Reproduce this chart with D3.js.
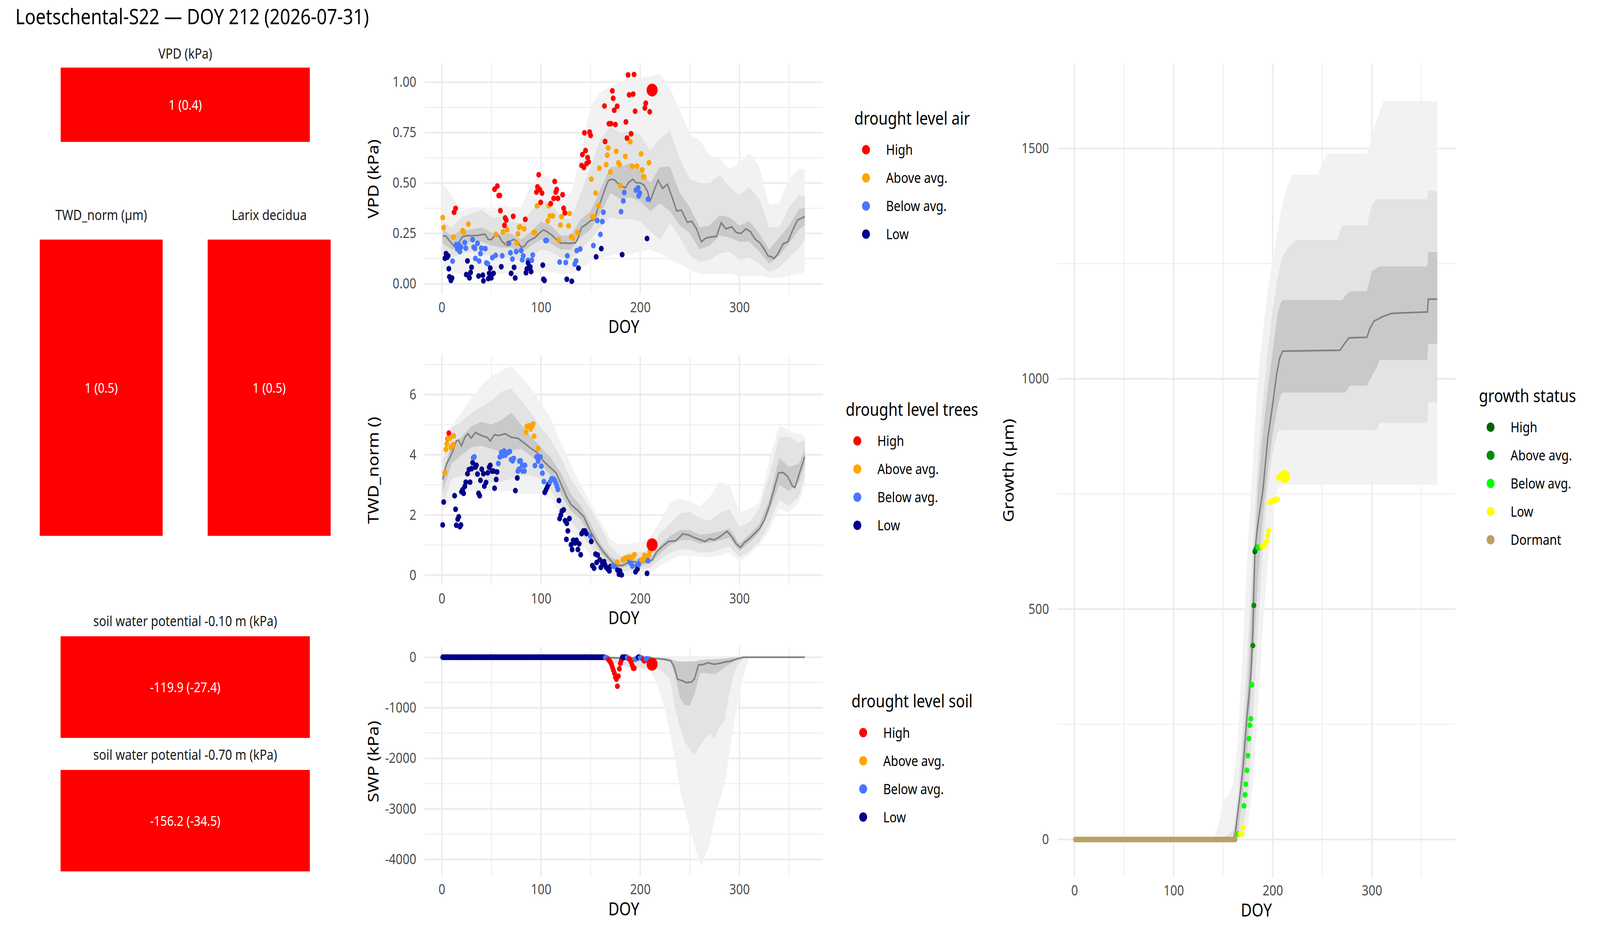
<!DOCTYPE html>
<html>
<head>
<meta charset="utf-8">
<script src="https://cdn.jsdelivr.net/npm/d3@7"></script>
<style>
  html, body { margin: 0; padding: 0; background: #fff; overflow: hidden; }
  svg { display: block; width: 100vw; height: 100vh; }
  text { font-family: "Noto Sans", "Open Sans", sans-serif; }
</style>
</head>
<body>
<svg id="chart" viewBox="0 0 4800 2400" preserveAspectRatio="none"></svg>
<script>
// ---- data ----
const titleText = "Loetschental-S22 \u2014 DOY 212 (2026-07-31)";
const todayDoy = 212;

const levelNames = ['High', 'Above avg.', 'Below avg.', 'Low'];
const levelCodes = ['H', 'A', 'B', 'L'];
const levelColors = ['#FF0000', '#FFA500', '#4876FF', '#00008B'];

const growthNames = ['High', 'Above avg.', 'Below avg.', 'Low', 'Dormant'];
const growthCodes = ['H', 'A', 'B', 'L', 'D'];
const growthColors = ['#006400', '#008B00', '#00FF00', '#FFFF00', '#BC9F62'];

// summary tiles: label, value text, level
const tileLabels = ['VPD (kPa)', 'TWD_norm (\u00b5m)', 'Larix decidua', 'soil water potential -0.10 m (kPa)', 'soil water potential -0.70 m (kPa)'];
const tileValues = ['1 (0.4)', '1 (0.5)', '1 (0.5)', '-119.9 (-27.4)', '-156.2 (-34.5)'];
const tileLevels = ['H', 'H', 'H', 'H', 'H'];

const doyTicks = [0, 100, 200, 300];
const doyMinor = [50, 150, 250, 350];

// VPD observations [doy, kPa]
const vpdHigh = [[12.4,.355],[13.9,.374],[53.2,.469],[56,.485],[57.4,.438],[58.5,.438],[59.1,.363],[63.2,.29],[63.9,.327],[65,.316],[72,.335],[84.2,.32],[95.4,.455],[96.5,.481],[97.7,.541],[98.8,.468],[99.7,.404],[101,.45],[109.8,.398],[112.8,.424],[113.8,.508],[114.9,.455],[115.8,.468],[117,.424],[121.8,.442],[122.8,.375],[124.1,.352],[141,.587],[141.7,.641],[143.2,.577],[143.8,.749],[144.9,.661],[146,.597],[147,.626],[148,.605],[149,.753],[150,.736],[164,.882],[164.6,.706],[168.5,.794],[170.6,.794],[171.9,.957],[172.8,.92],[173.8,.861],[175,.79],[176.8,.881],[185.6,.803],[186.7,.723],[187.8,1.036],[188.9,.937],[190.8,.744],[192.9,.941],[193.8,1.038],[194.9,.856],[204.7,.872],[205.6,.896],[209.6,.853]];
const vpdAbove = [[0.9,.329],[1.9,.279],[11.8,.232],[21,.264],[22,.257],[26.8,.296],[54.7,.245],[61.7,.258],[66,.268],[66.4,.199],[75.7,.203],[76.8,.248],[78,.28],[78.9,.283],[83,.273],[92.8,.255],[93.9,.255],[96,.387],[106.8,.312],[107.8,.387],[109,.337],[112,.337],[117.8,.218],[119.6,.292],[120.7,.333],[127.8,.288],[128.9,.349],[130.3,.234],[132,.228],[136.8,.255],[150.7,.519],[151.8,.332],[153.5,.332],[155,.45],[157.8,.387],[158.8,.574],[165.7,.591],[166.8,.638],[167.8,.674],[170,.555],[175.8,.657],[178,.6],[179.2,.591],[180,.487],[185,.632],[190,.705],[192,.583],[196.8,.584],[200.9,.645],[202,.565],[203.2,.531],[203.9,.531],[208.8,.601]];
const vpdBelow = [[10.9,.113],[14.6,.195],[15.6,.173],[17.1,.195],[18.2,.16],[19.3,.182],[23.2,.205],[24.2,.177],[31.1,.219],[32.2,.182],[33.4,.176],[33.9,.126],[36,.201],[37.7,.113],[39,.15],[39.9,.177],[43.9,.175],[45,.104],[46.3,.1],[51,.13],[54.2,.141],[60.9,.139],[67.7,.201],[69.2,.154],[71.2,.123],[75,.16],[80,.165],[81.1,.119],[82.1,.139],[87,.117],[90.7,.117],[91.7,.143],[104.6,.215],[105.7,.215],[118.8,.108],[125,.106],[126.5,.139],[134,.098],[135.3,.114],[136.1,.165],[139.5,.173],[152.8,.19],[156.7,.314],[159.9,.245],[161.8,.309],[162.9,.355],[180.7,.358],[182.9,.411],[183.9,.453],[195.7,.465],[197.9,.476],[198.5,.437],[199.6,.45],[207.9,.42]];
const vpdLow = [[3.2,.127],[4.3,.15],[5.4,.132],[6.4,.139],[7.1,.075],[7.7,.035],[9.2,.017],[10.3,.029],[24.7,.046],[25.9,.114],[27.9,.03],[29,.056],[30,.082],[37.1,.039],[41.4,.043],[42,.015],[46.9,.026],[47.8,.052],[48.9,.078],[49.9,.03],[52.1,.052],[60,.085],[69.9,.052],[72.9,.082],[74,.029],[84.9,.055],[85.7,.074],[87,.104],[87.9,.082],[89.2,.084],[90,.061],[101.8,.093],[102.5,.023],[103.5,.017],[126,.023],[131,.013],[137.8,.078],[155.6,.134],[160.8,.175],[181.8,.145],[206.9,.225]];
const vpdToday = [212, .961, 'H'];

// VPD climatology: median and bands [doy, outerLo, midLo, innerLo, innerHi, midHi, outerHi]
const vpdMedian = [[1,.236],[3.9,.238],[8.1,.212],[12.4,.186],[14.6,.177],[17.8,.212],[21,.234],[25.3,.24],[29.6,.238],[34.9,.24],[38.2,.242],[43.5,.247],[46.7,.221],[49.9,.219],[53.2,.238],[57.4,.238],[60.7,.212],[65,.19],[69.2,.212],[72.5,.221],[76.7,.208],[80,.182],[83.2,.186],[86.4,.208],[89.6,.219],[93.9,.229],[98.2,.251],[102.5,.268],[105.7,.26],[111,.242],[115.3,.221],[119.6,.202],[123.9,.203],[128.2,.201],[131.4,.203],[134.6,.203],[136.8,.221],[141,.281],[145.3,.294],[149.6,.312],[154,.32],[157.1,.372],[160.3,.411],[164.6,.472],[167.8,.511],[171.1,.519],[174.3,.515],[177.5,.498],[181.8,.485],[185,.476],[188.2,.502],[192.5,.519],[195.7,.502],[200.2,.5],[203.8,.49],[207.3,.459],[210.1,.412],[214.4,.468],[218,.514],[222.6,.473],[227.4,.494],[232.1,.431],[236.8,.361],[241.5,.366],[247.4,.306],[252.1,.31],[256.8,.273],[261.6,.209],[266.3,.227],[271,.232],[276.9,.236],[281.6,.303],[286.3,.273],[292.2,.283],[296.9,.255],[301.7,.25],[306.4,.273],[311.1,.259],[315.8,.222],[320.5,.204],[325.2,.171],[328.8,.139],[332.3,.134],[334.7,.125],[338.2,.144],[344.1,.199],[348.8,.209],[353.5,.264],[358.3,.315],[361.8,.324],[365.8,.334]];
const vpdBands = [
  [1,.08,.15,.20,.27,.31,.50],[10,.05,.13,.17,.24,.28,.44],[20,.05,.15,.19,.265,.33,.36],[30,.06,.16,.21,.27,.35,.38],
  [40,.05,.15,.21,.28,.37,.38],[50,.05,.14,.19,.255,.33,.36],[60,.05,.13,.18,.25,.33,.39],[70,.05,.13,.18,.25,.31,.38],
  [80,.04,.11,.15,.22,.30,.38],[90,.05,.13,.19,.26,.36,.49],[100,.06,.17,.22,.31,.42,.55],[110,.06,.16,.20,.29,.40,.52],
  [120,.05,.13,.17,.24,.33,.46],[130,.05,.12,.17,.24,.32,.44],[140,.07,.17,.23,.32,.45,.64],[150,.11,.22,.27,.36,.58,.88],
  [160,.13,.28,.35,.47,.72,.95],[170,.14,.33,.45,.58,.78,.98],[180,.15,.32,.42,.58,.75,1.0],[190,.15,.32,.43,.60,.76,1.02],
  [200,.16,.31,.41,.57,.74,1.02],[210,.17,.26,.36,.50,.66,1.03],[220,.15,.22,.40,.58,.72,1.04],[230,.12,.30,.36,.58,.76,.97],
  [240,.10,.23,.29,.45,.62,.86],[250,.07,.14,.25,.38,.52,.74],[260,.05,.11,.17,.28,.50,.71],[270,.05,.12,.19,.29,.50,.64],
  [280,.05,.15,.24,.34,.54,.62],[290,.05,.16,.23,.33,.48,.57],[300,.04,.12,.21,.29,.44,.60],[310,.04,.13,.21,.31,.48,.65],
  [320,.04,.10,.16,.25,.42,.58],[330,.03,.06,.10,.17,.28,.39],[340,.03,.08,.14,.23,.28,.40],[350,.04,.13,.20,.29,.38,.52],
  [360,.05,.18,.27,.37,.44,.57],[366,.06,.22,.29,.38,.43,.57]
];

// TWD_norm observations [doy, value]
const twdHigh = [[6,4.53],[7.1,4.72]];
const twdAbove = [[3,3.41],[4.1,4.18],[5.1,4.36],[6.4,4.53],[8.1,4.55],[9.2,4.24],[10.3,4.27],[11.4,4.34],[12,4.63],[84.9,4.75],[85.7,4.94],[87,4.95],[88.5,4.97],[89.6,4.86],[91.1,4.95],[92.2,5.03],[93,4.62],[97.1,4.21],[176.8,.43],[182.4,.51],[183.9,.54],[185.6,.57],[187.1,.55],[188.6,.6],[190.4,.57],[193,.63],[194.2,.68],[201.1,.51],[202.8,.51],[204.3,.66],[205.8,.57],[207.1,.63],[208.6,.66],[209.6,.79]];
const twdBelow = [[31.7,3.9],[32.8,3.93],[57,3.71],[58.5,3.93],[60,4.08],[61.3,3.97],[62.8,4.13],[63.9,3.99],[65.4,4.05],[67.1,4.08],[68.6,4.11],[69.9,3.84],[71.4,3.8],[72.5,3.88],[76.7,3.46],[77.8,3.52],[78.2,3.79],[79.5,3.8],[81,3.65],[81.5,3.46],[83.2,3.46],[83.8,3.65],[93.9,3.64],[95.6,3.93],[97.1,3.79],[97.7,3.93],[99.3,3.93],[100.3,3.62],[101.4,3.39],[102.9,3.11],[108.9,3.09],[110.6,3.2],[112.1,3.2],[113.6,3.16],[114.9,3.06],[116,2.96],[117,2.85],[149.6,1.3],[172.6,.3],[174.3,.3],[189.3,.45],[190.8,.39],[192.1,.3],[196.8,.32],[198.5,.35],[200,.48],[207.9,.48]];
const twdLow = [[0.9,1.67],[1.9,2.43],[12.9,2.64],[13.9,2.19],[14.6,1.66],[16.1,1.86],[17.1,1.94],[18.2,1.61],[19.3,1.67],[19.9,2.77],[21,2.84],[22,2.72],[23.2,2.95],[24.2,3.09],[25.9,3.37],[27.4,3.51],[28.5,3.09],[30,3.54],[31.1,3.74],[33.9,3.59],[34.9,3.65],[36,3.36],[37.1,2.72],[38.2,2.64],[39,3.15],[40.3,3.52],[42,3.37],[42.9,2.96],[44.6,3.08],[46.3,3.4],[47.8,3.59],[48.9,3.65],[50.6,3.46],[52.1,3.46],[53.2,2.89],[54.9,3.18],[55.7,3.43],[74.2,2.81],[76.1,3.23],[103.8,2.75],[105.1,2.84],[106.3,2.93],[107.8,3.03],[118.1,2.48],[118.8,1.88],[120,2.0],[121.1,2.13],[122.8,2.17],[124.3,1.81],[125.6,1.19],[126,1.72],[127.1,1.47],[128.6,1.88],[130.3,1.01],[131.4,.85],[132.5,1.16],[134.2,1.07],[135.7,1.16],[137.2,.85],[138.5,1.04],[140,.68],[141,1.38],[142.8,1.47],[144.3,1.47],[145.8,1.38],[150.7,1.12],[151.8,.32],[153.5,.23],[155,.7],[156.1,.42],[157.1,.67],[159.3,.51],[160.3,.26],[162,.39],[163.6,.45],[164.6,.34],[165.7,.26],[167.4,.2],[168.9,.14],[170,.29],[177.1,.17],[178.6,.03],[179.6,.14],[181.3,.01],[195.3,.11],[197.2,.2],[206.9,.06]];
const twdToday = [212, 1.01, 'H'];

const twdMedian = [[1,3.18],[2.8,3.46],[4.9,3.71],[8.1,3.9],[11.4,4.15],[14.6,4.46],[16.7,4.49],[19.9,4.3],[23.2,4.58],[26.4,4.7],[29.6,4.55],[33.9,4.74],[38.2,4.67],[42.4,4.61],[45.7,4.58],[48.9,4.46],[53.2,4.67],[57.4,4.64],[63.9,4.7],[70.3,4.58],[76.7,4.55],[83.2,4.39],[89.6,4.22],[96,4.08],[102.5,3.79],[108.9,3.59],[115.3,3.4],[121.8,2.9],[126,2.59],[130.3,2.34],[136.8,2.16],[143.2,1.94],[149.6,1.47],[156.1,1.1],[162.5,.79],[168.9,.54],[173.2,.39],[177.5,.32],[181.8,.32],[186.1,.39],[192.5,.45],[198.9,.42],[205.4,.45],[209.6,.48],[212,.5],[216.7,.78],[221.5,.93],[228.5,1.12],[235.6,1.14],[240.3,1.28],[242.7,1.37],[248.6,1.34],[254.5,1.25],[260.4,1.18],[265.1,1.12],[269.8,1.21],[274.5,1.17],[280.4,1.28],[287.5,1.46],[292.2,1.28],[296.9,1.03],[301.2,.92],[305.2,1.09],[309.9,1.21],[315.8,1.4],[320.5,1.56],[325.2,1.84],[329.9,2.27],[334.7,2.83],[339.4,3.4],[344.1,3.41],[348.8,3.27],[353.5,2.96],[355.9,2.91],[360.6,3.4],[365.8,3.93]];
const twdBands = [
  [1,2.1,2.4,2.8,3.35,3.8,4.3],[10,2.5,3.2,3.7,4.35,4.9,5.0],[20,2.7,3.3,4.0,4.6,5.1,5.4],[30,2.8,3.3,4.25,4.95,5.4,5.9],
  [40,2.8,3.2,4.3,5.1,5.6,6.3],[50,2.8,3.1,4.2,5.0,5.8,6.6],[60,2.8,3.1,4.1,5.15,6.1,6.8],[70,2.8,3.2,4.15,5.4,6.2,6.95],
  [80,2.7,3.3,4.2,5.0,5.8,6.6],[90,2.7,3.3,3.95,4.6,5.4,6.2],[100,2.7,3.2,3.7,4.25,4.9,5.7],[110,2.55,2.8,3.3,3.9,4.5,5.2],
  [120,2.0,2.3,2.7,3.4,3.9,4.4],[130,1.5,1.8,2.15,2.7,3.2,3.7],[140,1.0,1.4,1.85,2.3,2.7,3.0],[150,.7,.95,1.3,1.7,2.2,2.4],
  [160,.35,.5,.75,1.05,1.6,1.8],[170,.05,.2,.38,.62,.95,1.2],[180,0,.12,.24,.42,.62,1.0],[190,.02,.15,.32,.55,.75,1.05],
  [200,.05,.18,.32,.52,.78,1.1],[210,.1,.25,.38,.6,.8,1.25],[220,.3,.5,.72,.98,1.4,1.8],[230,.5,.75,1.0,1.3,1.7,2.4],
  [240,.65,.85,1.15,1.5,2.05,2.55],[250,.65,.85,1.18,1.5,2.1,2.45],[260,.62,.75,1.05,1.35,1.9,2.3],[270,.6,.75,1.08,1.38,1.8,2.6],
  [280,.65,.85,1.15,1.45,2.05,3.1],[290,.75,.95,1.25,1.55,2.2,3.0],[300,.45,.6,.8,1.05,1.6,2.1],[310,.7,.8,1.08,1.35,1.75,2.2],
  [320,1.0,1.1,1.42,1.7,2.2,2.4],[330,1.5,1.7,2.1,2.5,3.3,3.8],[340,2.2,2.5,3.0,3.9,4.6,5.0],[350,2.1,2.3,2.8,3.6,4.6,4.8],
  [360,2.4,2.6,3.1,3.7,4.4,4.7],[366,3.0,3.3,3.7,4.2,4.5,4.6]
];

// soil water potential, one value per day from DOY 1 to 212 (kPa)
const swpValues = [
  0,0,0,0,0,0,0,0,0,0,0,0,0,0,0,0,0,0,0,0,
  0,0,0,0,0,0,0,0,0,0,0,0,0,0,0,0,0,0,0,0,
  0,0,0,0,0,0,0,0,0,0,0,0,0,0,0,0,0,0,0,0,
  0,0,0,0,0,0,0,0,0,0,0,0,0,0,0,0,0,0,0,0,
  0,0,0,0,0,0,0,0,0,0,0,0,0,0,0,0,0,0,0,0,
  0,0,0,0,0,0,0,0,0,0,0,0,0,0,0,0,0,0,0,0,
  0,0,0,0,0,0,0,0,0,0,0,0,0,0,0,0,0,0,0,0,
  0,0,0,0,0,0,0,0,0,0,0,0,0,0,0,0,0,0,0,0,
  0,0,0,0,
  -5,-10,-20,
  -45,-70,-99,-138,-198,-257,-316,-395,-435,-573,-375,-229,-119,-60,
  0,0,0,0,0,
  -5,-20,
  -32,-60,-99,-158,-217,-217,
  -40,-30,-20,
  0,0,
  -10,-15,-20,
  -40,-71,-60,
  -32,-32,-35,-40,-45,
  -80,-138
];
const swpLevel =
  "LLLLLLLLLLLLLLLLLLLL" + "LLLLLLLLLLLLLLLLLLLL" + "LLLLLLLLLLLLLLLLLLLL" + "LLLLLLLLLLLLLLLLLLLL" +
  "LLLLLLLLLLLLLLLLLLLL" + "LLLLLLLLLLLLLLLLLLLL" + "LLLLLLLLLLLLLLLLLLLL" + "LLLLLLLLLLLLLLLLLLLL" +
  "LLLL" + "BBB" + "HHHHHHHHHHHHHH" + "LLLLL" + "BB" + "HHHHHH" + "BBB" + "LL" + "BBB" + "HHH" + "BBBBB" + "HH";

const swpMedian = [[1,0],[160,0],[165,-5],[180,-15],[200,-15],[212,-20],[224,-40],[230.9,-71],[234.4,-198],[237.5,-429],[242.7,-468],[246.9,-504],[252.1,-488],[254.9,-417],[258.7,-151],[262.7,-147],[268.6,-111],[274.5,-139],[280.4,-119],[286.3,-91],[291,-79],[296.9,-40],[304,0],[366,0]];
const swpBands = [
  [1,0,0,0,0,0,0],[150,0,0,0,0,0,0],[160,-30,-20,-5,0,0,0],[170,-120,-90,-20,0,0,0],[180,-180,-150,-30,0,0,0],
  [190,-230,-190,-30,0,0,0],[200,-250,-210,-30,0,0,0],[210,-270,-230,-35,0,0,0],[215,-450,-200,-40,-5,0,0],
  [220,-720,-260,-50,-10,-5,0],[225,-1050,-330,-60,-15,-10,0],[230,-1500,-430,-75,-30,-25,0],[235,-2000,-1000,-350,-75,-70,0],
  [240,-2600,-1390,-800,-85,-80,0],[245,-3000,-1670,-950,-85,-80,0],[250,-3400,-1830,-960,-85,-80,0],[255,-3750,-1930,-720,-80,-75,0],
  [260,-4050,-1750,-330,-60,-55,0],[262,-4130,-1700,-310,-55,-50,0],[265,-3950,-1610,-310,-50,-45,0],[270,-3700,-1520,-320,-45,-40,0],
  [275,-3200,-1610,-337,-40,-35,0],[280,-2850,-1380,-280,-35,-30,0],[285,-2500,-1250,-200,-25,-20,0],[290,-1900,-700,-140,-15,-10,0],
  [295,-1250,-300,-70,-5,0,0],[300,-700,-100,-25,0,0,0],[305,-300,-15,0,0,0,0],[310,0,0,0,0,0,0],[366,0,0,0,0,0,0]
];

// growth, one value per day from DOY 1 to 212 (um)
const growthValues = [
  0,0,0,0,0,0,0,0,0,0,0,0,0,0,0,0,0,0,0,0,
  0,0,0,0,0,0,0,0,0,0,0,0,0,0,0,0,0,0,0,0,
  0,0,0,0,0,0,0,0,0,0,0,0,0,0,0,0,0,0,0,0,
  0,0,0,0,0,0,0,0,0,0,0,0,0,0,0,0,0,0,0,0,
  0,0,0,0,0,0,0,0,0,0,0,0,0,0,0,0,0,0,0,0,
  0,0,0,0,0,0,0,0,0,0,0,0,0,0,0,0,0,0,0,0,
  0,0,0,0,0,0,0,0,0,0,0,0,0,0,0,0,0,0,0,0,
  0,0,0,0,0,0,0,0,0,0,0,0,0,0,0,0,0,0,0,0,
  0,0,
  12,12,12,12,12,12,12,26,
  73,97,120,150,182,219,248,262,336,
  421,508,
  625,
  630,634,
  634,634,634,635,
  636,636,638,640,645,648,660,670,732,732,734,735,736,737,737,738,738,
  785,788,790,791,790,789,788
];
const growthStatus =
  "DDDDDDDDDDDDDDDDDDDD" + "DDDDDDDDDDDDDDDDDDDD" + "DDDDDDDDDDDDDDDDDDDD" + "DDDDDDDDDDDDDDDDDDDD" +
  "DDDDDDDDDDDDDDDDDDDD" + "DDDDDDDDDDDDDDDDDDDD" + "DDDDDDDDDDDDDDDDDDDD" + "DDDDDDDDDDDDDDDDDDDD" +
  "DD" + "DDBBLLLL" + "BBBBBBBBB" + "AA" + "H" + "AA" + "BBBB" + "LLLLLLLLLLLLLLLLL" + "LLLLLLL";

const growthMedian = [[1,0],[158,0],[160,1],[162,10],[164,45],[166,80],[168,115],[170,155],[172,210],[174,265],[176,310],[178,360],[180,450],[181,540],[182,625],[184,665],[186,700],[190,755],[195,870],[200,945],[204,1010],[207,1045],[210,1060],[268,1062],[272,1075],[277,1089],[295,1090],[298,1109],[302,1125],[310,1134],[320,1142],[330,1143],[356,1145],[357,1173],[366,1173]];
const growthBands = [
  [1,0,0,0,0,0,0],[140,0,0,0,0,0,0],[145,0,0,0,0,0,30],[150,0,0,0,0,5,82],[155,0,0,0,0,10,95],
  [160,0,0,0,5,20,120],[165,0,0,15,60,100,220],[170,0,20,100,200,250,420],[175,30,90,210,340,420,640],
  [180,120,250,380,560,640,820],[185,280,450,560,760,820,1000],[190,460,630,700,880,950,1100],[195,600,760,800,980,1060,1190],
  [200,700,840,880,1060,1150,1260],[205,760,885,940,1140,1220,1320],[208,770,889,965,1165,1250,1360],[210,770,889,970,1171,1265,1380],
  [215,770,889,970,1171,1283,1420],[220,770,889,970,1171,1295,1443],[225,770,889,970,1171,1302,1443],[245,770,889,970,1171,1302,1443],
  [255,770,889,970,1171,1302,1489],[265,770,889,970,1171,1302,1489],[270,770,889,970,1171,1333,1489],[273,770,889,970,1180,1333,1489],
  [278,770,889,985,1190,1333,1489],[295,770,889,985,1190,1333,1489],[300,770,889,1006,1234,1377,1526],[305,770,889,1025,1240,1390,1560],
  [308,770,904,1041,1244,1390,1580],[312,770,904,1041,1244,1390,1603],[356,770,904,1041,1244,1390,1603],[357,770,949,1076,1275,1408,1603],
  [366,770,949,1076,1275,1408,1603]
];

// ---- drawing ----
const svg = d3.select('#chart');
const FONT = '"Noto Sans", "Open Sans", sans-serif';
const bandFills = ['#f2f2f2', '#e3e3e3', '#c9c9c9'];

svg.append('text')
  .attr('x', 46).attr('y', 62)
  .attr('font-size', 54).attr('fill', '#000')
  .text(titleText);

// summary tiles
const tileBoxes = [
  { x: 182, y: 173, w: 747.5, h: 190, labelY: 150 },
  { x: 119.3, y: 613, w: 368.7, h: 758, labelY: 563 },
  { x: 623, y: 613, w: 369, h: 758, labelY: 563 },
  { x: 181.7, y: 1628, w: 747.8, h: 260, labelY: 1602 },
  { x: 181.7, y: 1970, w: 747.8, h: 259.6, labelY: 1944 }
];
const tiles = svg.append('g').selectAll('g').data(tileBoxes).join('g');
tiles.append('rect')
  .attr('x', d => d.x).attr('y', d => d.y).attr('width', d => d.w).attr('height', d => d.h)
  .attr('fill', (d, i) => levelColors[levelCodes.indexOf(tileLevels[i])]);
tiles.append('text')
  .attr('x', d => d.x + d.w / 2).attr('y', d => d.labelY)
  .attr('text-anchor', 'middle').attr('font-size', 36).attr('fill', '#1a1a1a')
  .text((d, i) => tileLabels[i]);
tiles.append('text')
  .attr('x', d => d.x + d.w / 2).attr('y', d => d.y + d.h / 2)
  .attr('text-anchor', 'middle').attr('dominant-baseline', 'central')
  .attr('font-size', 35).attr('fill', '#fff')
  .text((d, i) => tileValues[i]);

function toPoints(lists, codes) {
  const pts = [];
  lists.forEach((list, i) => list.forEach(p => pts.push({ doy: p[0], v: p[1], c: codes[i] })));
  return pts.sort((a, b) => a.doy - b.doy);
}

function dailyPoints(values, codes) {
  return values.map((v, i) => ({ doy: i + 1, v: v, c: codes[i] }));
}

function drawPanel(o) {
  const x = d3.scaleLinear().domain([-17.25, 384.25]).range([o.left, o.right]);
  const y = d3.scaleLinear().domain(o.yDomain).range([o.bottom, o.top]);
  const g = svg.append('g');

  // grid
  const grid = g.append('g').attr('stroke', '#ebebeb');
  grid.selectAll('line.ymin').data(o.yMinor).join('line')
    .attr('x1', o.left).attr('x2', o.right).attr('y1', d => y(d)).attr('y2', d => y(d)).attr('stroke-width', 2.2);
  grid.selectAll('line.xmin').data(doyMinor).join('line')
    .attr('y1', o.top).attr('y2', o.bottom).attr('x1', d => x(d)).attr('x2', d => x(d)).attr('stroke-width', 2.2);
  grid.selectAll('line.ymaj').data(o.yTicks).join('line')
    .attr('x1', o.left).attr('x2', o.right).attr('y1', d => y(d)).attr('y2', d => y(d)).attr('stroke-width', 4.3);
  grid.selectAll('line.xmaj').data(doyTicks).join('line')
    .attr('y1', o.top).attr('y2', o.bottom).attr('x1', d => x(d)).attr('x2', d => x(d)).attr('stroke-width', 4.3);

  // climatology bands: outer, middle, inner
  [[1, 6], [2, 5], [3, 4]].forEach((pair, i) => {
    const area = d3.area().x(d => x(d[0])).y0(d => y(d[pair[0]])).y1(d => y(d[pair[1]]));
    g.append('path').datum(o.bands).attr('d', area).attr('fill', bandFills[i]);
  });

  // median
  g.append('path').datum(o.median)
    .attr('d', d3.line().x(d => x(d[0])).y(d => y(d[1])))
    .attr('fill', 'none').attr('stroke', '#808080').attr('stroke-width', 4.2);

  // observations
  g.append('g').selectAll('circle').data(o.points).join('circle')
    .attr('cx', d => x(d.doy)).attr('cy', d => y(d.v))
    .attr('r', d => d.doy === todayDoy && o.todayFromDaily ? 16.5 : 7.3)
    .attr('fill', d => o.colors[o.codes.indexOf(d.c)]);
  if (o.today) {
    g.append('circle')
      .attr('cx', x(o.today[0])).attr('cy', y(o.today[1])).attr('r', 16.5)
      .attr('fill', o.colors[o.codes.indexOf(o.today[2])]);
  }

  // axes
  const yAxis = g.append('g').attr('transform', `translate(${o.left},0)`)
    .call(d3.axisLeft(y).tickValues(o.yTicks).tickFormat(o.fmt).tickSize(0).tickPadding(25));
  const xAxis = g.append('g').attr('transform', `translate(0,${o.bottom})`)
    .call(d3.axisBottom(x).tickValues(doyTicks).tickFormat(d => String(d)).tickSize(0).tickPadding(21));
  [yAxis, xAxis].forEach(a => {
    a.select('.domain').remove();
    a.attr('font-size', 36).attr('font-family', FONT).attr('color', '#4d4d4d');
  });

  g.append('text')
    .attr('x', (o.left + o.right) / 2).attr('y', o.bottom + 100)
    .attr('text-anchor', 'middle').attr('font-size', 45).attr('fill', '#000')
    .text('DOY');
  g.append('text')
    .attr('transform', `translate(${o.yTitleX},${(o.top + o.bottom) / 2}) rotate(-90)`)
    .attr('text-anchor', 'middle').attr('font-size', 45).attr('fill', '#000')
    .text(o.yTitle);

  // legend
  const L = o.legend;
  const lg = g.append('g');
  lg.append('text').attr('x', L.x).attr('y', L.y).attr('font-size', 45).attr('fill', '#000').text(L.title);
  const items = lg.selectAll('g').data(o.names).join('g')
    .attr('transform', (d, i) => `translate(${L.x},${L.y + 64 + i * 72})`);
  items.append('circle').attr('cx', 35).attr('cy', 0).attr('r', 12).attr('fill', (d, i) => o.colors[i]);
  items.append('text').attr('x', 95).attr('y', 13).attr('font-size', 36).attr('fill', '#000').text(d => d);
}

const leftPanel = { left: 1274, right: 2469, yTitleX: 1136, names: levelNames, codes: levelCodes, colors: levelColors };

drawPanel(Object.assign({}, leftPanel, {
  top: 163.5, bottom: 752, yDomain: [-0.0497, 1.0907],
  yTicks: [0, 0.25, 0.5, 0.75, 1], yMinor: [0.125, 0.375, 0.625, 0.875], fmt: d3.format('.2f'),
  yTitle: 'VPD (kPa)', bands: vpdBands, median: vpdMedian,
  points: toPoints([vpdHigh, vpdAbove, vpdBelow, vpdLow], levelCodes), today: vpdToday,
  legend: { title: 'drought level air', x: 2563, y: 319 }
}));

drawPanel(Object.assign({}, leftPanel, {
  top: 909.7, bottom: 1497, yDomain: [-0.33, 7.30],
  yTicks: [0, 2, 4, 6], yMinor: [1, 3, 5, 7], fmt: d => String(d),
  yTitle: 'TWD_norm ()', bands: twdBands, median: twdMedian,
  points: toPoints([twdHigh, twdAbove, twdBelow, twdLow], levelCodes), today: twdToday,
  legend: { title: 'drought level trees', x: 2537, y: 1064 }
}));

drawPanel(Object.assign({}, leftPanel, {
  top: 1655, bottom: 2241.8, yDomain: [-4330, 206],
  yTicks: [-4000, -3000, -2000, -1000, 0], yMinor: [-3500, -2500, -1500, -500], fmt: d => String(d),
  yTitle: 'SWP (kPa)', bands: swpBands, median: swpMedian,
  points: dailyPoints(swpValues, swpLevel), todayFromDaily: true,
  legend: { title: 'drought level soil', x: 2554.5, y: 1810.5 }
}));

drawPanel({
  left: 3172, right: 4366, top: 163, bottom: 2244.6, yDomain: [-82, 1684], yTitleX: 3041,
  yTicks: [0, 500, 1000, 1500], yMinor: [250, 750, 1250], fmt: d => String(d),
  yTitle: 'Growth (\u00b5m)', bands: growthBands, median: growthMedian,
  points: dailyPoints(growthValues, growthStatus), todayFromDaily: true,
  names: growthNames, codes: growthCodes, colors: growthColors,
  legend: { title: 'growth status', x: 4436.7, y: 1029 }
});
</script>
</body>
</html>
